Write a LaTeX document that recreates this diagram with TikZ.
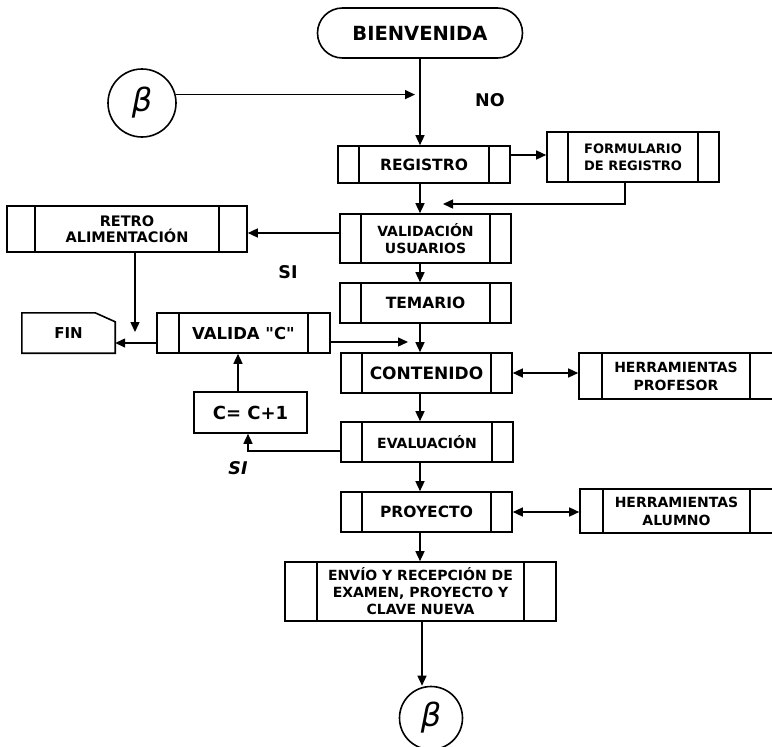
\documentclass[tikz,border=0pt]{standalone}
\usepackage{fontspec}
\setmainfont{DejaVu Sans}
\usetikzlibrary{arrows.meta,calc}
\newcommand{\fs}[2]{\bfseries\fontsize{#1}{#2}\selectfont}
\tikzset{
  box/.style={draw, line width=1.6pt, inner sep=0pt, align=center, font=\fs{14}{17}},
  sub/.style={box, path picture={
      \draw[line width=1.4pt] ([xshift=#1]path picture bounding box.north west) -- ([xshift=#1]path picture bounding box.south west);
      \draw[line width=1.4pt] ([xshift=-#1]path picture bounding box.north east) -- ([xshift=-#1]path picture bounding box.south east);}},
  sub/.default=21pt,
  arr/.style={line width=1.4pt, -{Triangle[length=10pt,width=9pt]}},
  darr/.style={line width=1.4pt, {Triangle[length=10pt,width=9pt]}-{Triangle[length=10pt,width=9pt]}},
  lbl/.style={font=\fs{17.5}{19}},
  betac/.style={draw, line width=1.6pt, circle, inner sep=0pt, font=\itshape\fontsize{32}{34}\selectfont}
}
\begin{document}
\begin{tikzpicture}[x=1pt,y=-1pt]
\useasboundingbox (0,0) rectangle (772,747);
\clip (0,0) rectangle (772,747);
\fill[white] (0,0) rectangle (772,747);

% nodes
\node[draw, line width=1.6pt, rounded corners=25pt, minimum width=205pt, minimum height=50pt, inner sep=0pt,
      font=\fs{19.5}{21}] (bien) at (420,33) {BIENVENIDA};
\node[betac, minimum size=68pt] (beta1) at (142,103) {β};
\node[sub, minimum width=172pt, minimum height=37pt, font=\fs{15.5}{17}] (reg) at (424,164.5) {REGISTRO};
\node[sub, minimum width=172pt, minimum height=50pt, font=\fs{13}{17}] (form) at (633,157) {FORMULARIO\\DE REGISTRO};
\node[sub, minimum width=171pt, minimum height=49pt, font=\fs{14}{17}] (val) at (425.5,238.5) {VALIDACIÓN\\USUARIOS};
\node[sub=28pt, minimum width=240pt, minimum height=46pt, font=\fs{14.5}{16.5}] (retro) at (127,229) {RETRO\\ALIMENTACIÓN};
\node[sub, minimum width=171pt, minimum height=40pt, font=\fs{15.5}{17}] (tem) at (425.5,303) {TEMARIO};
\node[sub=22pt, minimum width=173pt, minimum height=40pt, font=\fs{16.5}{18}] (valc) at (243.5,333) {VALIDA \textquotedbl C\textquotedbl};
\node[inner sep=0pt, minimum width=93pt, minimum height=40pt, font=\fs{15}{16}] (fin) at (68.5,333) {FIN};
\node[box, minimum width=113pt, minimum height=41pt, font=\fs{18}{20}] (cc) at (250.5,412.5) {C= C+1};
\node[sub, minimum width=171pt, minimum height=40pt, font=\fs{17}{19}] (cont) at (426.5,373) {CONTENIDO};
\node[sub=23pt, minimum width=194pt, minimum height=46pt, font=\fs{14}{18}] (hp) at (676,376) {HERRAMIENTAS\\PROFESOR};
\node[sub, minimum width=172pt, minimum height=40pt, font=\fs{14}{16}] (eval) at (427,442) {EVALUACIÓN};
\node[sub, minimum width=171pt, minimum height=40pt, font=\fs{15.5}{17}] (proy) at (426.5,512) {PROYECTO};
\node[sub=23pt, minimum width=193pt, minimum height=44pt, font=\fs{14}{18}] (ha) at (676.5,511) {HERRAMIENTAS\\ALUMNO};
\node[sub=32pt, minimum width=271pt, minimum height=59pt, font=\fs{14}{17}] (env) at (420.5,591.5) {ENVÍO Y RECEPCIÓN DE\\EXAMEN, PROYECTO Y\\CLAVE NUEVA};
\node[betac, minimum size=63pt] (beta2) at (431,718) {β};

% FIN outline (cut corner)
\draw[line width=1.6pt] (fin.south west) -- (fin.north west) -- ([xshift=-20pt]fin.north east)
   -- ([yshift=-9pt]fin.north east) -- (fin.south east) -- cycle;

% labels
\node[lbl] (no) at (490,100) {NO};
\node[lbl] (si1) at (288,272) {SI};
\node[font=\bfseries\itshape\fontsize{17.5}{19}\selectfont] (si2) at (238,468) {SI};

% helper coordinates
\coordinate (ax) at (420,0);
\coordinate (j1) at (443,204);
\coordinate (j2) at (135,332);
\coordinate (j3) at (408,342);

% connectors
\draw[arr] (bien.south) -- (bien.south |- reg.north);
\draw[arr] (beta1.14) -- (beta1.14 -| 415,0);
\draw[arr] ([yshift=9.5pt]reg.east) -- ([yshift=9.5pt]reg.east -| form.west);
\draw[arr] ([xshift=-8pt]form.south) |- (j1);
\draw[arr] (reg.south -| ax) -- (val.north -| ax);
\draw[arr] ([yshift=5.5pt]val.west) -- ([yshift=5.5pt]val.west -| retro.east);
\draw[arr] ([xshift=8pt]retro.south) -- (j2);
\draw[arr] (val.south -| ax) -- (tem.north -| ax);
\draw[arr] (tem.south -| ax) -- (cont.north -| ax);
\draw[arr] ([yshift=-9pt]valc.east) -- (j3);
\draw[arr] ([yshift=-10pt]valc.west) -- ([yshift=-10pt]valc.west -| fin.east);
\draw[arr] ([xshift=-12.5pt]cc.north) -- ([xshift=-12.5pt]cc.north |- valc.south);
\draw[darr] (cont.east) -- (cont.east -| hp.west);
\draw[arr] (cont.south -| ax) -- (eval.north -| ax);
\draw[arr] ([yshift=-9pt]eval.west) -| ([xshift=-2.5pt]cc.south);
\draw[arr] (eval.south -| ax) -- (proy.north -| ax);
\draw[darr] (proy.east) -- (proy.east -| ha.west);
\draw[arr] (proy.south -| ax) -- (env.north -| ax);
\draw[arr] ([xshift=1.5pt]env.south) -- ([xshift=1.5pt]env.south |- beta2.north);
\end{tikzpicture}
\end{document}
